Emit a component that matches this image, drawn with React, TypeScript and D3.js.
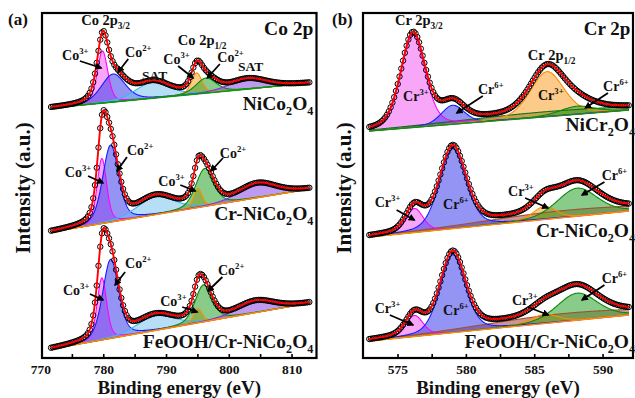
import React from 'react';
import * as d3 from 'd3';

// ---------------- DATA ----------------
// Panel (a): Co 2p
const coRange = [771.6, 812.8];
const coSampleNames = [['NiCo', '2', 'O', '4'], ['Cr-NiCo', '2', 'O', '4'], ['FeOOH/Cr-NiCo', '2', 'O', '4']];
const coBackground = [[250, 275], [126, 169], [9, 55]]; // intensity at start / end of range
// components: Co3+ 2p3/2, Co2+ 2p3/2, SAT, Co3+ 2p1/2, Co2+ 2p1/2, SAT
const coCenters = [
  [779.8, 781.5, 787.8, 794.8, 796.3, 803.0],
  [779.7, 781.1, 788.3, 795.0, 796.1, 804.5],
  [779.7, 781.1, 788.3, 795.0, 795.9, 804.2],
];
const coHeights = [
  [52, 28, 16, 21, 15, 10],
  [65, 77, 18, 19, 38, 14],
  [62, 79, 15, 14, 37, 11.5],
];
const coWidths = [
  [2.0, 4.5, 6.5, 2.0, 3.8, 7.0],
  [1.8, 3.0, 7.0, 1.6, 3.4, 7.0],
  [1.8, 3.0, 7.0, 1.6, 3.2, 7.0],
];
const coEta = [0.35, 0.35, 0.35];
const coTicks = [770, 780, 790, 800, 810];

// Panel (b): Cr 2p
const crRange = [572.9, 591.9];
const crSampleNames = [['NiCr', '2', 'O', '4'], ['Cr-NiCo', '2', 'O', '4'], ['FeOOH/Cr-NiCo', '2', 'O', '4']];
const crBackground = [[227, 248], [121, 147], [17, 43]];
// components: broad background band, Cr3+ 2p3/2, Cr6+ 2p3/2, Cr3+ 2p1/2, Cr6+ 2p1/2
const crCenters = [
  [586.0, 576.1, 579.0, 585.9, 588.1],
  [587.0, 576.2, 579.0, 585.7, 588.1],
  [587.0, 576.2, 579.0, 585.7, 588.1],
];
const crHeights = [
  [5, 93, 19, 45, 8],
  [7, 24, 80, 13, 28],
  [8, 21, 78, 9, 27],
];
const crWidths = [
  [16, 2.1, 2.0, 2.9, 3.0],
  [14, 1.5, 2.3, 2.0, 3.5],
  [14, 1.5, 2.2, 2.4, 3.5],
];
const crEta = [0.3, 0.3, 0.3];
const crTicks = [575, 580, 585, 590];

// ---------------- STYLE ----------------
const W = 635, H = 398;
const FONT_STYLE = { fontFamily: 'Liberation Serif, Tinos, DejaVu Serif, Times New Roman, serif', fontWeight: 700 as const };
const yScale = d3.scaleLinear().domain([0, 345]).range([358, 13]);
const xA = d3.scaleLinear().domain([770.16, 813.9]).range([42, 316.5]);
const xB = d3.scaleLinear().domain([572.44, 592.19]).range([363, 633]);

const C = {
  magenta: { s: '#ff00ff', f: 'rgba(240,60,240,0.45)' },
  blue: { s: '#1a1aff', f: 'rgba(60,60,235,0.55)' },
  light: { s: '#44b4f0', f: 'rgba(110,190,240,0.5)' },
  orange: { s: '#ff8c00', f: 'rgba(250,160,40,0.55)' },
  green: { s: '#0a8a0a', f: 'rgba(40,160,40,0.55)' },
  purple: { s: '#8a2be2', f: 'rgba(140,70,230,0.55)' },
  brown: { s: '#a0522d', f: 'rgba(170,60,60,0.55)' },
  dgreen: { s: '#1a6e1a', f: 'rgba(30,120,30,0.6)' },
};
const coColors = [C.magenta, C.blue, C.light, C.orange, C.green, C.purple];
const crColorsBySpectrum = [
  [C.dgreen, C.magenta, C.blue, C.orange, C.green],
  [C.brown, C.magenta, C.blue, C.orange, C.green],
  [C.brown, C.magenta, C.blue, C.orange, C.green],
];
const coBgColors = ['#00a000', '#ff8c00', '#ff8c00'];
const crBgColors = ['#1a8a1a', '#ff8c00', '#ff8c00'];

const K = 4 * Math.LN2;
function pv(e: number, c: number, h: number, w: number, eta: number) {
  const d = (e - c) / w;
  return h * ((1 - eta) * Math.exp(-K * d * d) + eta / (1 + 4 * d * d));
}

type Col = { s: string; f: string };

function Spectrum(props: {
  x: d3.ScaleLinear<number, number>;
  range: number[];
  bg: number[];
  centers: number[];
  heights: number[];
  widths: number[];
  eta: number;
  colors: Col[];
  bgColor: string;
  step: number;
}) {
  const { x, range, bg, centers, heights, widths, eta, colors, bgColor, step } = props;
  const [e0, e1] = range;
  const bgAt = (e: number) => bg[0] + ((bg[1] - bg[0]) * (e - e0)) / (e1 - e0);
  const grid = d3.range(e0, e1 + 1e-9, 0.05);
  const comp = (i: number, e: number) => pv(e, centers[i], heights[i], widths[i], eta);
  const env = (e: number) => bgAt(e) + centers.reduce((s, _c, i) => s + comp(i, e), 0);
  const line = d3.line<[number, number]>().x((d) => x(d[0])).y((d) => yScale(d[1]));
  const pts = d3.range(e0, e1 + 1e-9, step);
  return (
    <g>
      {centers.map((_c, i) => {
        const a = d3
          .area<number>()
          .x((e) => x(e))
          .y0((e) => yScale(bgAt(e)))
          .y1((e) => yScale(bgAt(e) + comp(i, e)));
        return <path key={'f' + i} d={a(grid) || ''} fill={colors[i].f} stroke="none" />;
      })}
      {centers.map((_c, i) => (
        <path
          key={'s' + i}
          d={line(grid.map((e) => [e, bgAt(e) + comp(i, e)] as [number, number])) || ''}
          fill="none"
          stroke={colors[i].s}
          strokeWidth={1.1}
        />
      ))}
      <path d={line([[e0, bgAt(e0)], [e1, bgAt(e1)]]) || ''} stroke={bgColor} strokeWidth={1.4} fill="none" />
      {pts.map((e, i) => (
        <circle key={'p' + i} cx={x(e)} cy={yScale(env(e))} r={2.7} fill="none" stroke="#000" strokeWidth={1} />
      ))}
      <path
        d={line(grid.map((e) => [e, env(e)] as [number, number])) || ''}
        fill="none"
        stroke="#ff0000"
        strokeWidth={1.9}
      />
    </g>
  );
}

function Ion({ x, y, base, sup, size = 14 }: { x: number; y: number; base: string; sup: string; size?: number }) {
  return (
    <text x={x} y={y} style={FONT_STYLE} fontSize={size} fill="#111">
      {base}
      <tspan dy={-6} fontSize={size * 0.62}>{sup}</tspan>
    </text>
  );
}

function PeakTitle({ x, y, base, sub, size = 14.5 }: { x: number; y: number; base: string; sub: string; size?: number }) {
  return (
    <text x={x} y={y} style={FONT_STYLE} fontSize={size} fill="#111">
      {base}
      <tspan dy={4} fontSize={size * 0.65}>{sub}</tspan>
    </text>
  );
}

function Sample({ x, y, parts, size = 19.5 }: { x: number; y: number; parts: string[]; size?: number }) {
  return (
    <text x={x} y={y} textAnchor="end" style={FONT_STYLE} fontSize={size} fill="#111">
      {parts[0]}
      <tspan dy={5} fontSize={size * 0.62}>{parts[1]}</tspan>
      <tspan dy={-5}>{parts[2]}</tspan>
      <tspan dy={5} fontSize={size * 0.62}>{parts[3]}</tspan>
    </text>
  );
}

function Arrow({ x1, y1, x2, y2 }: { x1: number; y1: number; x2: number; y2: number }) {
  return <line x1={x1} y1={y1} x2={x2} y2={y2} stroke="#000" strokeWidth={1.8} markerEnd="url(#arrowhead)" />;
}

function Frame({ x, ticks, minor, left, right }: { x: d3.ScaleLinear<number, number>; ticks: number[]; minor: number[]; left: number; right: number }) {
  const top = yScale(345), bottom = yScale(0);
  return (
    <g>
      <rect x={left} y={top} width={right - left} height={bottom - top} fill="none" stroke="#000" strokeWidth={2.2} />
      {minor.map((t) => (
        <line key={'m' + t} x1={x(t)} x2={x(t)} y1={bottom} y2={bottom - 4} stroke="#000" strokeWidth={1.6} />
      ))}
      {ticks.map((t) => (
        <text key={'t' + t} x={x(t)} y={373.5} textAnchor="middle" style={FONT_STYLE} fontSize={13.5} fill="#111">
          {t}
        </text>
      ))}
      <text x={(left + right) / 2} y={394} textAnchor="middle" style={FONT_STYLE} fontSize={19} fill="#111">
        Binding energy (eV)
      </text>
    </g>
  );
}

export default function App() {
  const yA = yScale;
  const aMinor = d3.range(775, 813, 5);
  const bMinor = d3.range(575, 592, 2.5);
  return (
    <svg width={W} height={H} style={{ position: 'absolute', left: 0, top: 0, background: '#fff' }}>
      <defs>
        <marker id="arrowhead" viewBox="0 0 10 10" refX="8" refY="5" markerWidth="4" markerHeight="4" orient="auto">
          <path d="M0,0 L10,5 L0,10 z" fill="#000" />
        </marker>
        <clipPath id="clipA">
          <rect x={xA.range()[0]} y={13} width={xA.range()[1] - xA.range()[0]} height={345} />
        </clipPath>
        <clipPath id="clipB">
          <rect x={xB.range()[0]} y={13} width={xB.range()[1] - xB.range()[0]} height={345} />
        </clipPath>
      </defs>
      <rect width={W} height={H} fill="#fff" />

      {/* Panel (a) */}
      <g clipPath="url(#clipA)">
        {coCenters.map((c, i) => (
          <Spectrum
            key={i}
            x={xA}
            range={coRange}
            bg={coBackground[i]}
            centers={c}
            heights={coHeights[i]}
            widths={coWidths[i]}
            eta={coEta[i]}
            colors={coColors}
            bgColor={coBgColors[i]}
            step={0.28}
          />
        ))}
      </g>
      <Frame x={xA} ticks={coTicks} minor={aMinor} left={42} right={316.5} />
      <text x={8} y={25} style={FONT_STYLE} fontSize={17} fill="#111">(a)</text>
      <text x={xA(813.4)} y={yA(323)} textAnchor="end" style={FONT_STYLE} fontSize={19.5} fill="#111">Co 2p</text>
      <text transform={`translate(30,188) rotate(-90)`} textAnchor="middle" style={FONT_STYLE} fontSize={21} fill="#111">Intensity (a.u.)</text>
      <PeakTitle x={xA(776.4)} y={yA(333)} base="Co 2p" sub="3/2" />
      <PeakTitle x={xA(791.8)} y={yA(313)} base="Co 2p" sub="1/2" />
      {/* top */}
      <Ion x={xA(773.35)} y={yA(298)} base="Co" sup="3+" />
      <Arrow x1={xA(776.2)} y1={yA(297)} x2={xA(779.6)} y2={yA(290)} />
      <Ion x={xA(783.4)} y={yA(301)} base="Co" sup="2+" />
      <Arrow x1={xA(783.9)} y1={yA(299)} x2={xA(782.3)} y2={yA(286)} />
      <text x={xA(786.1)} y={yA(278)} style={FONT_STYLE} fontSize={13.5} fill="#111">SAT</text>
      <Ion x={xA(789.5)} y={yA(294)} base="Co" sup="3+" />
      <Arrow x1={xA(791.85)} y1={yA(292)} x2={xA(794.25)} y2={yA(280)} />
      <Ion x={xA(798.1)} y={yA(296)} base="Co" sup="2+" />
      <Arrow x1={xA(798.5)} y1={yA(294)} x2={xA(796.5)} y2={yA(280)} />
      <text x={xA(801.4)} y={yA(287)} style={FONT_STYLE} fontSize={13.5} fill="#111">SAT</text>
      <Sample x={xA(813.4)} y={yA(248)} parts={coSampleNames[0]} />
      {/* middle */}
      <Ion x={xA(773.8)} y={yA(181)} base="Co" sup="3+" />
      <Arrow x1={xA(777.5)} y1={yA(182)} x2={xA(779.9)} y2={yA(175)} />
      <Ion x={xA(783.7)} y={yA(203)} base="Co" sup="2+" />
      <Arrow x1={xA(783.7)} y1={yA(201)} x2={xA(782.1)} y2={yA(187)} />
      <Ion x={xA(788.7)} y={yA(172)} base="Co" sup="3+" />
      <Arrow x1={xA(792.2)} y1={yA(173)} x2={xA(794.6)} y2={yA(167)} />
      <Ion x={xA(798.5)} y={yA(200)} base="Co" sup="2+" />
      <Arrow x1={xA(799.0)} y1={yA(200)} x2={xA(797.1)} y2={yA(187)} />
      <Sample x={xA(813.4)} y={yA(138)} parts={coSampleNames[1]} />
      {/* bottom */}
      <Ion x={xA(773.5)} y={yA(63)} base="Co" sup="3+" />
      <Arrow x1={xA(777.8)} y1={yA(64)} x2={xA(779.9)} y2={yA(58)} />
      <Ion x={xA(783.4)} y={yA(90)} base="Co" sup="2+" />
      <Arrow x1={xA(783.4)} y1={yA(86)} x2={xA(781.8)} y2={yA(73)} />
      <Ion x={xA(789.0)} y={yA(52)} base="Co" sup="3+" />
      <Arrow x1={xA(792.5)} y1={yA(51)} x2={xA(794.9)} y2={yA(46)} />
      <Ion x={xA(798.2)} y={yA(83)} base="Co" sup="2+" />
      <Arrow x1={xA(798.9)} y1={yA(81)} x2={xA(796.6)} y2={yA(67)} />
      <Sample x={xA(813.4)} y={yA(10)} parts={coSampleNames[2]} />

      {/* Panel (b) */}
      <g clipPath="url(#clipB)">
        {crCenters.map((c, i) => (
          <Spectrum
            key={i}
            x={xB}
            range={crRange}
            bg={crBackground[i]}
            centers={c}
            heights={crHeights[i]}
            widths={crWidths[i]}
            eta={crEta[i]}
            colors={crColorsBySpectrum[i]}
            bgColor={crBgColors[i]}
            step={0.13}
          />
        ))}
      </g>
      <Frame x={xB} ticks={crTicks} minor={bMinor} left={363} right={633} />
      <text x={332} y={25} style={FONT_STYLE} fontSize={17} fill="#111">(b)</text>
      <text x={xB(592.0)} y={yA(323)} textAnchor="end" style={FONT_STYLE} fontSize={19} fill="#111">Cr 2p</text>
      <text transform={`translate(351,188) rotate(-90)`} textAnchor="middle" style={FONT_STYLE} fontSize={21} fill="#111">Intensity (a.u.)</text>
      <PeakTitle x={xB(574.78)} y={yA(333)} base="Cr 2p" sub="3/2" />
      <PeakTitle x={xB(584.5)} y={yA(298)} base="Cr 2p" sub="1/2" />
      {/* top */}
      <Ion x={xB(575.37)} y={yA(257)} base="Cr" sup="3+" />
      <Ion x={xB(580.85)} y={yA(264)} base="Cr" sup="6+" />
      <Arrow x1={xB(581.2)} y1={yA(262)} x2={xB(579.3)} y2={yA(245)} />
      <Ion x={xB(585.24)} y={yA(258)} base="Cr" sup="3+" />
      <Ion x={xB(590.0)} y={yA(267)} base="Cr" sup="6+" />
      <Arrow x1={xB(590.36)} y1={yA(265)} x2={xB(588.7)} y2={yA(250)} />
      <Sample x={xB(592.34)} y={yA(227)} parts={crSampleNames[0]} />
      {/* middle */}
      <Ion x={xB(573.3)} y={yA(151)} base="Cr" sup="3+" />
      <Arrow x1={xB(574.9)} y1={yA(148)} x2={xB(576.2)} y2={yA(138)} />
      <Ion x={xB(578.3)} y={yA(149)} base="Cr" sup="6+" />
      <Ion x={xB(583.05)} y={yA(162)} base="Cr" sup="3+" />
      <Arrow x1={xB(584.3)} y1={yA(160)} x2={xB(585.97)} y2={yA(150)} />
      <Ion x={xB(589.9)} y={yA(178)} base="Cr" sup="6+" />
      <Arrow x1={xB(590.1)} y1={yA(176)} x2={xB(588.46)} y2={yA(163)} />
      <Sample x={xB(592.34)} y={yA(121)} parts={crSampleNames[1]} />
      {/* bottom */}
      <Ion x={xB(573.3)} y={yA(45)} base="Cr" sup="3+" />
      <Arrow x1={xB(574.4)} y1={yA(43)} x2={xB(576.1)} y2={yA(33)} />
      <Ion x={xB(578.3)} y={yA(43)} base="Cr" sup="6+" />
      <Ion x={xB(583.34)} y={yA(53)} base="Cr" sup="3+" />
      <Arrow x1={xB(584.5)} y1={yA(51)} x2={xB(586.0)} y2={yA(43)} />
      <Ion x={xB(589.9)} y={yA(75)} base="Cr" sup="6+" />
      <Arrow x1={xB(590.1)} y1={yA(73)} x2={xB(588.46)} y2={yA(58)} />
      <Sample x={xB(592.34)} y={yA(10)} parts={crSampleNames[2]} />
    </svg>
  );
}
